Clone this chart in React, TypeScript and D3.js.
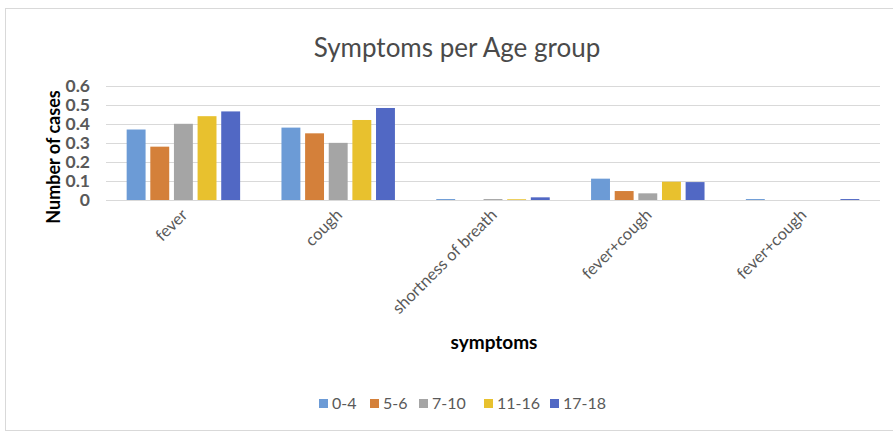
import React from 'react';
import * as d3 from 'd3';

const categories = ['fever', 'cough', 'shortness of breath', 'fever+cough ', 'fever+cough'];
const ageGroups = ['0-4', '5-6', '7-10', '11-16', '17-18'];
const colors = ['#6c9bd6', '#d4803a', '#a5a5a5', '#e8c12e', '#5168c4'];

// values per age group, in category order
const v04 = [0.37, 0.38, 0.005, 0.112, 0.005];
const v56 = [0.28, 0.35, 0, 0.047, 0];
const v710 = [0.40, 0.30, 0.005, 0.035, 0];
const v1116 = [0.44, 0.42, 0.004, 0.096, 0];
const v1718 = [0.465, 0.483, 0.014, 0.094, 0.005];
const series = [v04, v56, v710, v1116, v1718];

const yTicks = [0, 0.1, 0.2, 0.3, 0.4, 0.5, 0.6];

const W = 893;
const H = 433;
const font = 'Lato, "Open Sans", sans-serif';
const gray = '#595959';

export default function App() {
  const x0 = d3.scaleBand<number>()
    .domain(d3.range(categories.length))
    .range([106, 880])
    .paddingInner(0.267)
    .paddingOuter(0.1335);
  const x1 = d3.scaleBand<string>()
    .domain(ageGroups)
    .range([0, x0.bandwidth()])
    .paddingInner(0.2);
  const y = d3.scaleLinear().domain([0, 0.6]).range([200, 85.7]);

  const legendX = [319, 370, 419, 484, 550];

  return (
    <svg width={W} height={H} style={{ position: 'absolute', left: 0, top: 0, background: '#fff' }}>
      <rect x={5.5} y={8.5} width={900} height={422} fill="#fff" stroke="#d9d9d9" />
      <text x={457} y={57} textAnchor="middle" fontFamily={font} fontSize={26} fill="#4a4a4a">
        Symptoms per Age group
      </text>

      {/* gridlines */}
      {yTicks.map(t => (
        <line key={t} x1={106} x2={880} y1={Math.round(y(t)) + 0.5} y2={Math.round(y(t)) + 0.5}
          stroke="#d9d9d9" strokeWidth={1} />
      ))}

      {/* y tick labels */}
      {yTicks.map(t => (
        <text key={t} x={90} y={y(t) + 6} textAnchor="end" fontFamily={font} fontSize={17.5}
          fontWeight={700} fill={gray}>
          {d3.format('')(t)}
        </text>
      ))}

      {/* bars */}
      {categories.map((c, ci) => (
        <g key={ci} transform={`translate(${x0(ci)},0)`}>
          {ageGroups.map((a, si) => {
            const v = series[si][ci];
            if (!v) return null;
            return (
              <rect key={a} x={x1(a)} y={y(v)} width={x1.bandwidth()} height={y(0) - y(v)}
                fill={colors[si]} />
            );
          })}
        </g>
      ))}

      {/* x labels */}
      {categories.map((c, ci) => {
        const cx = (x0(ci) || 0) + x0.bandwidth() / 2 + 5;
        return (
          <text key={ci} transform={`translate(${cx},216) rotate(-45)`} textAnchor="end"
            fontFamily={font} fontSize={16.5} fill={gray}>
            {c.trim()}
          </text>
        );
      })}

      {/* axis titles */}
      <text transform="translate(60,157) rotate(-90)" textAnchor="middle" fontFamily={font}
        fontSize={18} fontWeight={700} fill="#000">
        Number of cases
      </text>
      <text x={494} y={349} textAnchor="middle" fontFamily={font} fontSize={19} fontWeight={700} fill="#000">
        symptoms
      </text>

      {/* legend */}
      {ageGroups.map((a, i) => (
        <g key={a} transform={`translate(${legendX[i]},399)`}>
          <rect x={0} y={0} width={9} height={9} fill={colors[i]} />
          <text x={13} y={10} fontFamily={font} fontSize={16} fill={gray}>{a}</text>
        </g>
      ))}
    </svg>
  );
}
